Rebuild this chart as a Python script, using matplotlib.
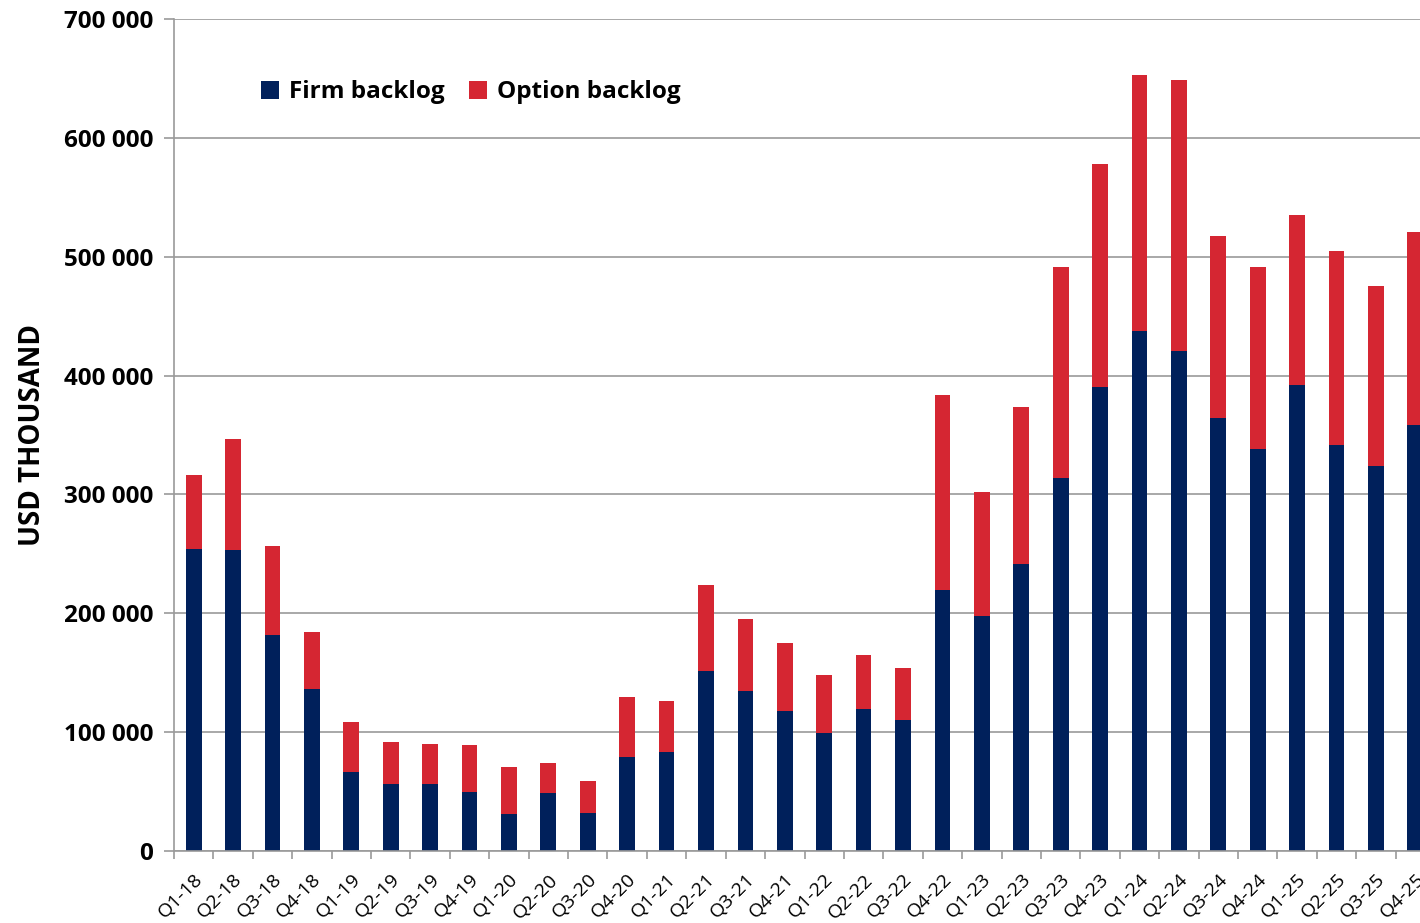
import matplotlib.pyplot as plt
import numpy as np
from matplotlib.ticker import FuncFormatter, FixedLocator

quarters = ["Q1-18", "Q2-18", "Q3-18", "Q4-18", "Q1-19", "Q2-19", "Q3-19", "Q4-19",
            "Q1-20", "Q2-20", "Q3-20", "Q4-20", "Q1-21", "Q2-21", "Q3-21", "Q4-21",
            "Q1-22", "Q2-22", "Q3-22", "Q4-22", "Q1-23", "Q2-23", "Q3-23", "Q4-23",
            "Q1-24", "Q2-24", "Q3-24", "Q4-24", "Q1-25", "Q2-25", "Q3-25", "Q4-25"]

# USD thousand
total = [316000, 346600, 256600, 184300, 108500, 91700, 90000, 89200,
         70700, 74000, 58900, 129600, 126200, 223800, 195200, 175000,
         148100, 164900, 154000, 383600, 302000, 373500, 491300, 578000,
         652900, 648700, 517400, 491300, 535100, 504800, 475300, 520800]
firm = [254000, 253200, 181700, 136300, 66500, 56400, 56400, 49600,
        31100, 48800, 32000, 79100, 83300, 151400, 134600, 117800,
        99300, 119500, 110200, 219600, 197700, 241500, 313800, 390400,
        437500, 420700, 364300, 338200, 392000, 341600, 323900, 358400]
option = [t - f for t, f in zip(total, firm)]

navy = "#00205B"
red = "#D52632"
grid_col = "#9a9a9a"

plt.rcParams['font.family'] = ['Open Sans', 'DejaVu Sans']

fig = plt.figure(figsize=(14.2, 9.23), dpi=100)
# axes runs past the right edge, like the cropped original
ax = fig.add_axes([174 / 1420, 72 / 923, 1261 / 1420, 832 / 923])

x = np.arange(len(quarters))
ax.bar(x, firm, width=0.4, color=navy, label="Firm backlog", zorder=3)
ax.bar(x, option, width=0.4, bottom=firm, color=red, label="Option backlog", zorder=3)

ax.set_xlim(-0.5, len(quarters) - 0.5)
ax.set_ylim(0, 700000)
ax.set_yticks(np.arange(0, 700001, 100000))
ax.yaxis.set_major_formatter(FuncFormatter(lambda v, p: f"{int(v):,}".replace(",", " ")))
ax.grid(axis="y", color=grid_col, linewidth=1.2, zorder=0)

for s in ["top", "right"]:
    ax.spines[s].set_visible(False)
for s in ["left", "bottom"]:
    ax.spines[s].set_color(grid_col)
    ax.spines[s].set_linewidth(1.2)
    ax.spines[s].set_zorder(4)

ax.tick_params(axis="y", length=7, color=grid_col, width=1.2, labelsize=17.5, pad=8)
for lab in ax.get_yticklabels():
    lab.set_fontweight("bold")

ax.set_xticks(x)
ax.set_xticklabels(quarters, rotation=45, ha="right", rotation_mode="anchor", fontsize=14)
ax.tick_params(axis="x", which="major", length=0, pad=14)
ax.xaxis.set_minor_locator(FixedLocator(np.arange(-0.5, len(quarters), 1)))
ax.tick_params(axis="x", which="minor", length=6, color=grid_col, width=1.2)

ax.set_ylabel("USD THOUSAND", fontsize=20, fontweight="bold", labelpad=12)

ax.legend(loc="center left", bbox_to_anchor=(0.069, 0.912), ncol=2, frameon=False,
          borderaxespad=0, borderpad=0,
          prop={"size": 17.5, "weight": "bold"}, handlelength=0.75, handleheight=0.75,
          handletextpad=0.4, columnspacing=1.0)

fig.savefig("out.png", dpi=100)
